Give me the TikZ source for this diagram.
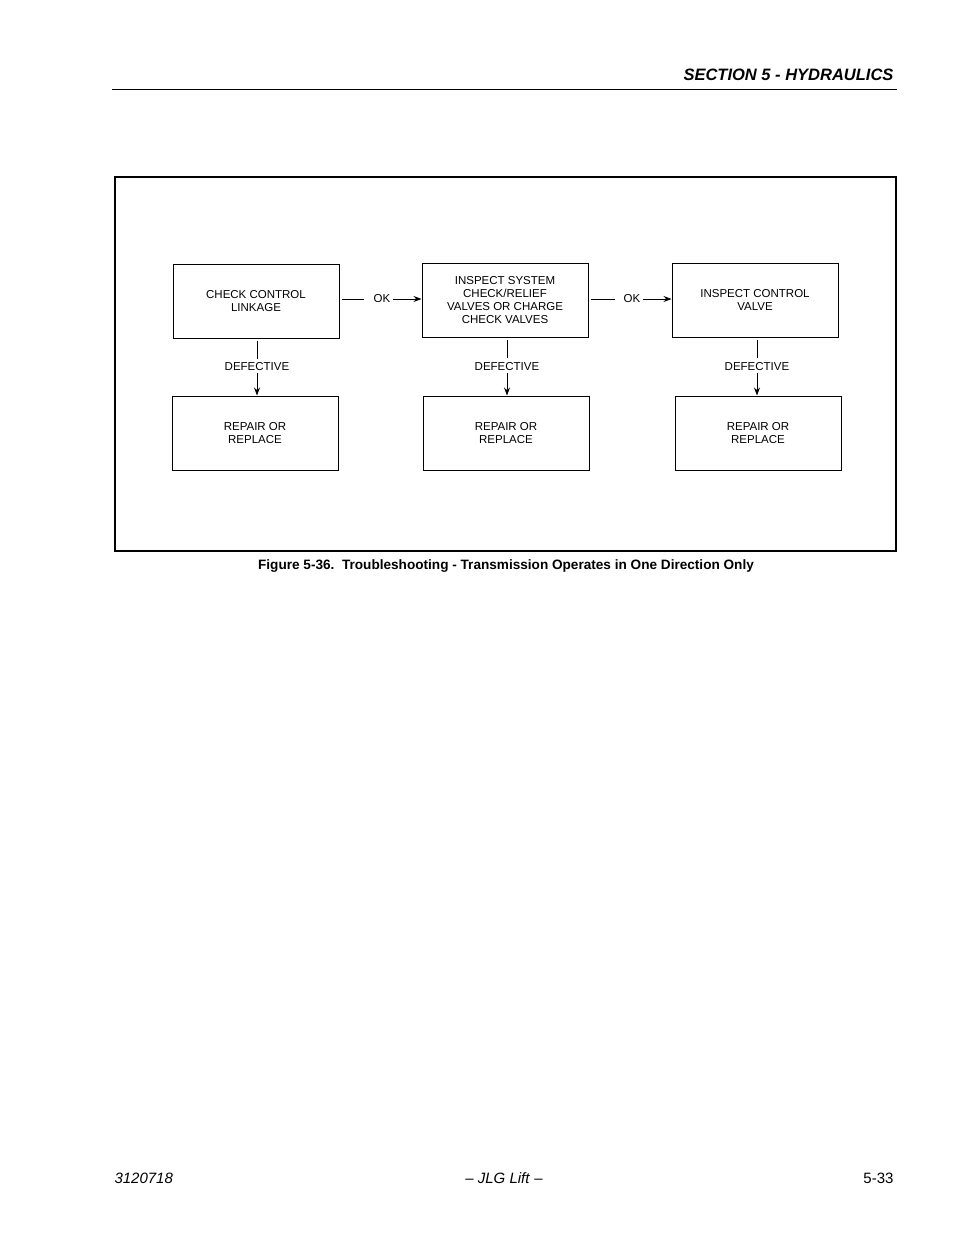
\documentclass[tikz,border=0pt]{standalone}
\usepackage{fontspec}
\setmainfont{Liberation Sans}
\usetikzlibrary{positioning, arrows.meta}

\begin{document}
\begin{tikzpicture}[x=1pt, y=-1pt]
    % settings for this picture
    \tikzset{
      >={Stealth[length=8pt, width=6pt]},
      box/.style={draw, line width=1pt, minimum width=166pt, minimum height=74pt, align=center, font=\fontsize{11.5}{13}\selectfont},
      lbl/.style={inner sep=2pt, font=\fontsize{11.5}{13}\selectfont},
      conn/.style={line width=0.8pt},
    }
    \useasboundingbox (0,0) rectangle (954,1235);

    % page header and footer
    \node[anchor=base east, font=\fontsize{16.5}{18}\selectfont\bfseries\itshape] (head) at (897,80) {SECTION 5 - HYDRAULICS};
    \draw (112,89) -- (897,89);
    \node[anchor=base west, font=\fontsize{15}{18}\selectfont\itshape] (num) at (111,1183) {3120718};
    \node[anchor=base, font=\fontsize{15}{18}\selectfont] (mid) at (504,1183) {-- \textit{JLG Lift} --};
    \node[anchor=base east, font=\fontsize{15}{18}\selectfont] (pg) at (897,1183) {5-33};

    % frame and caption
    \draw[line width=1.6pt] (115,177) rectangle (896,551);
    \node[font=\fontsize{13.6}{16}\selectfont\bfseries] (cap) at (506,566) {Figure 5-36.\ \ Troubleshooting - Transmission Operates in One Direction Only};

    % steps
    \node[box] (c1) at (256,301) {CHECK CONTROL\\LINKAGE};
    \node[box] (c2) at (505,300) {INSPECT SYSTEM\\CHECK/RELIEF\\VALVES OR CHARGE\\CHECK VALVES};
    \node[box] (c3) at (755,300) {INSPECT CONTROL\\VALVE};
    \node[box] (r1) at (255,433) {REPAIR OR\\REPLACE};
    \node[box] (r2) at (506,433) {REPAIR OR\\REPLACE};
    \node[box] (r3) at (758,433) {REPAIR OR\\REPLACE};

    % labels
    \node[lbl] (ok1) at (382,299) {OK};
    \node[lbl] (ok2) at (632,299) {OK};
    \node[lbl] (d1) at (257,367) {DEFECTIVE};
    \node[lbl] (d2) at (507,367) {DEFECTIVE};
    \node[lbl] (d3) at (757,367) {DEFECTIVE};

    % transitions
    \draw[conn] (c1.east |- ok1) ++(2,0) -- ++(22,0);
    \draw[conn, ->] (ok1.east) -- (c2.west |- ok1);
    \draw[conn] (c2.east |- ok2) ++(2,0) -- ++(24,0);
    \draw[conn, ->] (ok2.east) -- (c3.west |- ok2);
    \foreach \i in {1,2,3} {
      \draw[conn] (d\i.north |- c\i.south) ++(0,2) -- ++(0,18);
      \draw[conn, ->] (d\i.south) -- (d\i.south |- r\i.north);
    }
\end{tikzpicture}
\end{document}
